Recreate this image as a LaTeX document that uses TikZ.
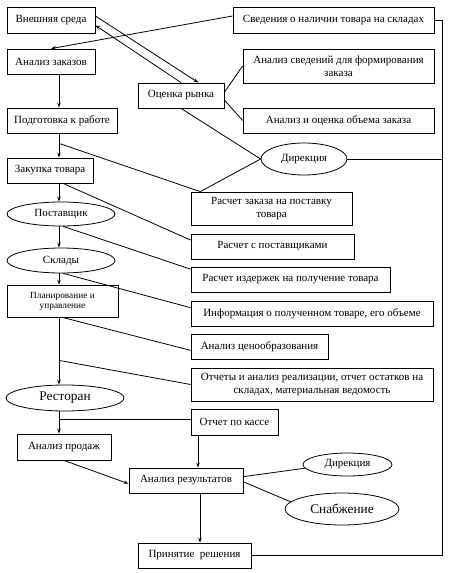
\documentclass[tikz,border=0pt]{standalone}
\usepackage{fontspec}
\setmainfont{Liberation Serif}
\usetikzlibrary{shapes.geometric,arrows.meta,calc}
\begin{document}
\begin{tikzpicture}[x=1pt,y=-1pt,
  box/.style={draw, line width=0.8pt, inner sep=1pt, align=center,
    font=\fontsize{11}{12.5}\selectfont},
  oval/.style={draw, ellipse, line width=0.8pt, inner sep=0pt,
    font=\fontsize{11}{12.5}\selectfont},
  bigoval/.style={oval, font=\fontsize{13.3}{15}\selectfont},
  ln/.style={line width=0.8pt},
  arr/.style={ln, -{Stealth[length=5pt,width=3.6pt]}}]
\useasboundingbox[fill=white] (0,0) rectangle (448,573);

% left column
\node[box, minimum width=88, minimum height=26] (vn) at (51,20) {Внешняя среда};
\node[box, minimum width=88, minimum height=25] (az) at (51,61.5) {Анализ заказов};
\node[box, minimum width=110, minimum height=25] (pod) at (62,120.5) {Подготовка к работе};
\node[box, minimum width=86, minimum height=25] (zak) at (50,170.5) {Закупка товара};
\node[oval, minimum width=108, minimum height=24] (post) at (61,214) {Поставщик};
\node[oval, minimum width=108, minimum height=25] (skl) at (61,260.5) {Склады};
\node[box, minimum width=111, minimum height=32, font=\fontsize{9.3}{10}\selectfont] (plan) at (62.5,301) {Планирование и\\управление};
\node[bigoval, minimum width=118, minimum height=26] (rest) at (65,398) {Ресторан};
\node[box, minimum width=94, minimum height=26] (anp) at (64,447) {Анализ продаж};

% middle / right
\node[box, minimum width=201, minimum height=26] (sv) at (333.5,20) {Сведения о наличии товара на складах};
\node[box, minimum width=191, minimum height=34] (as) at (338.5,66) {Анализ сведений для формирования\\заказа};
\node[box, minimum width=86, minimum height=25] (ocr) at (181,95.5) {Оценка рынка};
\node[box, minimum width=191, minimum height=25] (ao) at (338.5,120.5) {Анализ и оценка объема заказа};
\node[oval, minimum width=86, minimum height=32] (dir1) at (304,159) {Дирекция};
\node[box, minimum width=161, minimum height=33] (rz) at (271.5,208.5) {Расчет заказа на поставку\\товара};
\node[box, minimum width=163, minimum height=25] (rs) at (272.5,246.5) {Расчет с поставщиками};
\node[box, minimum width=199, minimum height=25] (ri) at (290.5,279.5) {Расчет издержек на получение товара};
\node[box, minimum width=242, minimum height=25] (inf) at (312,313.5) {Информация о полученном товаре, его объеме};
\node[box, minimum width=137, minimum height=25] (ats) at (259.5,346.5) {Анализ ценообразования};
\node[box, minimum width=242, minimum height=33] (otch) at (312,384.5) {Отчеты и анализ реализации, отчет остатков на\\складах, материальная ведомость};
\node[box, minimum width=87, minimum height=26] (kas) at (234.5,422) {Отчет по кассе};
\node[box, minimum width=114, minimum height=25] (arez) at (186,480.5) {Анализ результатов};
\node[oval, minimum width=89, minimum height=23] (dir2) at (347.5,464.5) {Дирекция};
\node[bigoval, minimum width=114, minimum height=32] (snab) at (342,509) {Снабжение};
\node[box, minimum width=113, minimum height=25] (pr) at (194.5,555.5) {Принятие\ \ решения};

% helper coordinates
\coordinate (spine) at (59,0);
\coordinate (v2) at (198,0);
\coordinate (v3) at (200,0);
\coordinate (rl) at (442,0);
\coordinate (j1) at ($(pod.south -| spine)+(0,10)$);
\coordinate (j2) at ($(plan.south -| spine)+(0,43)$);
\coordinate (rzt) at ($(rz.north west)!0.06!(rz.north east)$);
\coordinate (kw) at ($(kas.west)!0.2!(kas.north west)$);

% top connectors
\draw[arr] ($(vn.east)!0.3!(vn.north east)$) -- ($(ocr.north)!0.4!(ocr.north east)$);
\draw[arr] (ocr.north) -- ($(vn.east)!0.4!(vn.south east)$);
\draw[arr] ($(sv.west)!0.3!(sv.north west)$) -- (az.north);
\draw[ln] ($(ocr.east)!0.25!(ocr.north east)$) -- (as.west);
\draw[ln] ($(ocr.east)!0.35!(ocr.south east)$) -- (ao.west);
\draw[ln] (ocr.south) -- (dir1.west);
\draw[ln] (j1) -- (rzt);
\draw[ln] (dir1.west) -- (rzt);
\draw[ln] (dir1.east) -- (dir1.east -| rl);
\draw[ln] (sv.east) -- (sv.east -| rl) -- (pr.east -| rl) -- (pr.east);

% spine
\draw[arr] (az.south -| spine) -- (pod.north -| spine);
\draw[arr] (pod.south -| spine) -- (zak.north -| spine);
\draw[arr] (zak.south -| spine) -- (post.north -| spine);
\draw[arr] (post.south -| spine) -- (skl.north -| spine);
\draw[arr] (skl.south -| spine) -- (plan.north -| spine);
\draw[arr] (plan.south -| spine) -- (rest.north -| spine);
\draw[arr] (rest.south -| spine) -- (anp.north -| spine);
\draw[ln] (kw -| spine) -- (kw);

% branches to the right
\draw[ln] ($(zak.south)!0.3!(zak.south east)$) -- ($(rs.west)!0.5!(rs.north west)$);
\draw[ln] (post.-80) -- ($(ri.west)!0.8!(ri.north west)$);
\draw[ln] (skl.-80) -- ($(inf.west)!0.45!(inf.north west)$);
\draw[ln] (plan.south) -- ($(ats.west)!0.3!(ats.south west)$);
\draw[ln] (j2) -- (otch.west);

% bottom
\draw[arr] (anp.south) -- ($(arez.west)!0.25!(arez.south west)$);
\draw[arr] (kas.south -| v2) -- (arez.north -| v2);
\draw[arr] (arez.south -| v3) -- (pr.north -| v3);
\draw[ln] ($(arez.east)!0.3!(arez.north east)$) -- (dir2.185);
\draw[ln] ($(arez.east)!0.1!(arez.south east)$) -- (snab.172);
\end{tikzpicture}
\end{document}
